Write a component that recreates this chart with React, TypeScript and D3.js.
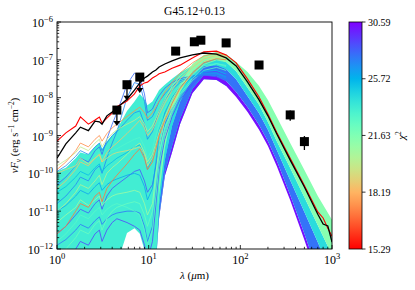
import React, { useEffect, useRef } from 'react';
import * as d3 from 'd3';

// chi^2 colour range (log-normalised, rainbow_r)
const CHI_MIN = 15.29;
const CHI_MAX = 30.59;
const CHI_TICKS = [15.29, 18.19, 21.63, 25.72, 30.59];

// full wavelength grid (micron) for the two highlighted fits
const WAVE = [1, 1.25, 1.6, 1.8, 2.2, 2.6, 2.9, 3.1, 3.5, 4, 4.5, 5.8, 7, 8, 9, 9.7, 11, 12, 13, 15, 18, 22, 30, 40, 55, 70, 90, 120, 160, 200, 250, 350, 500, 700, 800, 900, 1000];
// best model (chi2 = 15.29), log10 nuFnu
const bestLog = [-9.15, -8.93, -8.75, -8.51, -8.70, -8.59, -8.51, -8.67, -8.54, -8.41, -8.24, -8.09, -7.90, -7.69, -7.61, -7.59, -7.48, -7.43, -7.37, -7.32, -7.22, -7.14, -6.95, -6.79, -6.77, -6.87, -7.08, -7.51, -7.98, -8.43, -8.92, -9.60, -10.32, -11.02, -11.18, -11.45, -11.66];
// black curve
const blackLog = [-9.60, -9.22, -8.93, -8.78, -8.87, -8.62, -8.64, -8.70, -8.48, -8.38, -8.27, -8.04, -7.80, -7.61, -7.48, -7.43, -7.32, -7.27, -7.19, -7.11, -7.03, -6.95, -6.87, -6.82, -6.85, -6.95, -7.16, -7.59, -8.06, -8.48, -8.96, -9.65, -10.36, -11.08, -11.34, -11.39, -11.82];

// near/mid-IR grid for the model cloud
const NIR_WAVE = [1, 1.25, 1.6, 1.8, 2.2, 2.6, 2.9, 3.1, 3.5, 4, 4.5, 5.8, 7, 8, 9, 9.7, 11, 12, 13, 15, 18, 22, 30, 40, 55, 70];
const cloudChi = 23.5;
const cloudTopLog = [-9.95, -9.85, -9.6, -9.45, -9.5, -9.3, -9.2, -9.35, -9.15, -9.0, -8.85, -8.35, -8.1, -7.9, -8.05, -8.2, -8.1, -7.95, -7.8, -7.66, -7.5, -7.34, -7.15, -6.96, -6.86, -6.92];
const cloudBottomLog = [-12.4, -12.4, -12.4, -12.4, -12.4, -12.4, -12.4, -12.4, -12.4, -12.4, -12.4, -11.58, -11.45, -11.60, -12.03, -12.4, -12.4, -12.4, -11.18, -10.07, -9.44, -8.70, -7.88, -7.51, -7.53, -7.69];

// individual model lines drawn over the cloud
const modelChi = [28.8, 28.3, 27.5, 22.8, 27.0, 27.8, 26.8, 26.2, 25.5, 22.3, 23.0, 20.8, 20.2, 19.8, 19.2, 18.6, 17.4, 17.0];
const modelLog = [
  [-12.5, -12.3, -12.0, -11.8, -11.9, -11.6, -11.5, -11.8, -11.5, -11.3, -11.2, -11.3, -11.4, -11.5, -11.9, -12.3, -11.8, -10.8, -9.9, -9.1, -8.5, -8.05, -7.65, -7.35, -7.3, -7.4],
  [-11.6, -11.4, -11.1, -10.95, -11.05, -10.8, -10.7, -10.95, -10.6, -10.4, -10.3, -10.1, -9.95, -9.9, -10.2, -10.5, -10.3, -9.8, -9.3, -8.7, -8.3, -7.95, -7.6, -7.4, -7.4, -7.5],
  [-11.9, -11.75, -11.5, -11.35, -11.45, -11.25, -11.15, -11.35, -11.2, -11.1, -11.05, -11.0, -11.0, -11.05, -11.4, -11.8, -11.4, -10.5, -9.7, -8.95, -8.4, -8.0, -7.62, -7.38, -7.35, -7.45],
  [-11.8, -11.6, -11.3, -11.1, -11.2, -11.0, -10.9, -11.1, -10.95, -10.85, -10.8, -10.9, -11.0, -11.1, -11.5, -11.9, -11.5, -10.6, -9.75, -8.95, -8.4, -7.95, -7.55, -7.28, -7.2, -7.28],
  [-10.8, -10.6, -10.3, -10.1, -10.2, -9.9, -9.8, -10.0, -9.6, -9.2, -8.9, -8.0, -7.6, -7.65, -8.1, -8.6, -8.5, -8.3, -8.1, -7.9, -7.7, -7.55, -7.45, -7.4, -7.42, -7.5],
  [-10.3, -10.1, -9.8, -9.6, -9.7, -9.4, -9.3, -9.5, -9.1, -8.7, -8.4, -7.65, -7.35, -7.45, -7.9, -8.4, -8.3, -8.1, -7.95, -7.75, -7.6, -7.5, -7.42, -7.4, -7.45, -7.55],
  [-9.95, -9.8, -9.55, -9.4, -9.5, -9.3, -9.2, -9.4, -9.2, -9.0, -8.9, -8.6, -8.4, -8.35, -8.7, -9.1, -8.9, -8.6, -8.35, -8.05, -7.8, -7.6, -7.45, -7.38, -7.38, -7.48],
  [-11.0, -10.85, -10.6, -10.45, -10.55, -10.35, -10.25, -10.45, -10.3, -10.2, -10.15, -10.05, -10.0, -10.05, -10.35, -10.7, -10.4, -9.7, -9.0, -8.4, -8.0, -7.7, -7.45, -7.35, -7.35, -7.45],
  [-10.5, -10.35, -10.1, -9.95, -10.05, -9.85, -9.75, -9.95, -9.8, -9.7, -9.6, -9.45, -9.3, -9.25, -9.55, -9.9, -9.6, -9.2, -8.85, -8.45, -8.05, -7.75, -7.45, -7.3, -7.28, -7.38],
  [-12.2, -12.0, -11.7, -11.5, -11.6, -11.35, -11.25, -11.5, -11.2, -11.0, -10.9, -10.8, -10.75, -10.8, -11.1, -11.4, -11.0, -10.2, -9.5, -8.8, -8.3, -7.9, -7.5, -7.2, -7.1, -7.15],
  [-10.2, -10.05, -9.8, -9.65, -9.75, -9.55, -9.45, -9.65, -9.5, -9.4, -9.35, -9.2, -9.1, -9.05, -9.3, -9.6, -9.35, -9.0, -8.7, -8.3, -7.95, -7.65, -7.35, -7.15, -7.1, -7.18],
  [-11.3, -11.1, -10.9, -10.7, -10.85, -10.7, -10.6, -10.85, -10.7, -10.6, -10.55, -10.5, -10.45, -10.5, -10.8, -11.1, -10.8, -10.0, -9.3, -8.6, -8.1, -7.75, -7.4, -7.12, -7.0, -7.05],
  [-11.0, -10.8, -10.5, -10.3, -10.4, -10.2, -10.05, -10.3, -10.0, -9.85, -9.75, -9.5, -9.3, -9.2, -9.45, -9.7, -9.5, -9.2, -8.9, -8.5, -8.05, -7.7, -7.3, -7.05, -6.95, -6.98],
  [-9.8, -9.65, -9.45, -9.3, -9.4, -9.2, -9.1, -9.3, -9.1, -8.95, -8.85, -8.7, -8.6, -8.5, -8.7, -8.9, -8.75, -8.55, -8.35, -8.05, -7.7, -7.42, -7.15, -6.95, -6.86, -6.9],
  [-10.0, -9.9, -9.8, -9.6, -9.75, -9.6, -9.5, -9.7, -9.6, -9.5, -9.45, -9.4, -9.35, -9.3, -9.5, -9.8, -9.6, -9.3, -9.0, -8.6, -8.2, -7.8, -7.35, -7.05, -6.92, -6.95],
  [-10.4, -10.2, -9.9, -9.7, -9.8, -9.6, -9.5, -9.7, -9.45, -9.3, -9.2, -8.95, -8.75, -8.6, -8.8, -9.0, -8.85, -8.65, -8.45, -8.15, -7.8, -7.5, -7.2, -6.98, -6.88, -6.92],
  [-9.9, -9.7, -9.4, -9.2, -9.3, -9.1, -9.0, -9.15, -8.95, -8.8, -8.7, -8.5, -8.35, -8.25, -8.4, -8.55, -8.4, -8.25, -8.1, -7.85, -7.6, -7.35, -7.08, -6.9, -6.82, -6.88],
  [-11.6, -11.4, -11.0, -10.8, -10.9, -10.6, -10.5, -10.75, -10.4, -10.2, -10.05, -9.75, -9.5, -9.35, -9.6, -9.9, -9.7, -9.35, -9.0, -8.6, -8.15, -7.75, -7.35, -7.08, -6.97, -7.0],
];

// far-IR fan of models: edges from lowest (purple) to highest (green)
const FIR_WAVE = [12, 13, 15, 18, 22, 30, 40, 55, 70, 90, 120, 160, 200, 250, 350, 500, 700, 1000];
const fanEdgeP = [-12.34, -11.18, -10.07, -9.44, -8.70, -7.88, -7.51, -7.53, -7.69, -7.98, -8.38, -8.85, -9.28, -9.81, -10.71, -11.76, -12.82, -13.88];
const fanEdgeB = [-12.34, -11.12, -9.98, -9.28, -8.56, -7.77, -7.40, -7.43, -7.56, -7.85, -8.25, -8.72, -9.15, -9.67, -10.57, -11.60, -12.61, -13.61];
const fanEdgeC = [-12.34, -10.84, -9.65, -8.75, -8.11, -7.48, -7.16, -7.14, -7.24, -7.51, -7.96, -8.41, -8.85, -9.38, -10.18, -11.02, -11.82, -12.69];
const fanEdgeG = [-12.34, -10.57, -9.33, -8.43, -7.85, -7.30, -7.03, -6.98, -7.06, -7.30, -7.74, -8.19, -8.64, -9.15, -9.86, -10.63, -11.37, -12.16];
const fanEdgeT = [-12.34, -10.31, -8.99, -8.17, -7.64, -7.11, -6.87, -6.79, -6.85, -7.06, -7.32, -7.69, -8.06, -8.51, -9.20, -9.91, -10.60, -11.23];
const fanChi = [30.2, 27.6, 24.3, 21.4];

// observed photometry
const obsWave = [4.5, 5.8, 8.0, 19.7, 31.5, 37.1, 70, 160, 350, 500];
const obsFlux = [4.7e-9, 2.2e-8, 3.5e-8, 1.7e-7, 3.0e-7, 3.3e-7, 2.8e-7, 7.3e-8, 3.5e-9, 6.9e-10];
const obsErr = [0, 0, 0, 0, 0, 0, 0, 0, 0.3, 0.4];
const obsUpper = [true, true, true, false, false, false, false, false, false, false];

const X_TICKS = [1, 10, 100, 1000];
const Y_TICKS = [1e-12, 1e-11, 1e-10, 1e-9, 1e-8, 1e-7, 1e-6];

const FONT = '"Liberation Serif", "DejaVu Serif", serif';

const App: React.FC = () => {
  const svgRef = useRef<SVGSVGElement>(null);
  const margin = { top: 22, right: 83, bottom: 41, left: 57 };
  const width = 415;
  const height = 290;

  useEffect(() => {
    if (!svgRef.current) return;
    const svg = d3.select(svgRef.current);
    svg.selectAll('*').remove();

    const x = d3.scaleLog().domain([1, 1000]).range([margin.left, width - margin.right]);
    const y = d3.scaleLog().domain([1e-12, 1e-6]).range([height - margin.bottom, margin.top]);
    const chiNorm = d3.scaleLog().domain([CHI_MIN, CHI_MAX]).range([0, 1]).clamp(true);

    // matplotlib 'rainbow'
    const rainbow = (v: number) => {
      const r = Math.min(1, Math.abs(2 * v - 0.5));
      const g = Math.sin(Math.PI * v);
      const b = Math.cos((Math.PI * v) / 2);
      return d3.rgb(r * 255, g * 255, b * 255).formatHex();
    };
    const chiColor = (c: number) => rainbow(1 - chiNorm(c));

    const defs = svg.append('defs');
    defs.append('clipPath').attr('id', 'plotClip')
      .append('rect')
      .attr('x', margin.left).attr('y', margin.top)
      .attr('width', width - margin.left - margin.right)
      .attr('height', height - margin.top - margin.bottom);

    const plot = svg.append('g').attr('clip-path', 'url(#plotClip)');

    // cloud of near-IR models
    const cloudArea = d3.area<number>()
      .x((d, i) => x(NIR_WAVE[i]))
      .y0((d, i) => y(10 ** cloudBottomLog[i]))
      .y1((d, i) => y(10 ** cloudTopLog[i]));
    plot.append('path')
      .datum(NIR_WAVE)
      .attr('d', cloudArea)
      .attr('fill', chiColor(cloudChi));

    // far-IR fan bands
    const edges = [fanEdgeP, fanEdgeB, fanEdgeC, fanEdgeG, fanEdgeT];
    fanChi.forEach((chi, k) => {
      const lo = edges[k];
      const hi = edges[k + 1];
      const band = d3.area<number>()
        .x((d, i) => x(FIR_WAVE[i]))
        .y0((d, i) => y(10 ** lo[i]))
        .y1((d, i) => y(10 ** hi[i]));
      plot.append('path')
        .datum(FIR_WAVE)
        .attr('d', band)
        .attr('fill', chiColor(chi));
    });

    // individual model lines
    const nirLine = (vals: number[]) => d3.line<number>()
      .x((d, i) => x(NIR_WAVE[i]))
      .y((d) => y(10 ** d))(vals);
    modelLog.forEach((vals, k) => {
      plot.append('path')
        .attr('d', nirLine(vals))
        .attr('fill', 'none')
        .attr('stroke', chiColor(modelChi[k]))
        .attr('stroke-width', 0.9)
        .attr('stroke-opacity', 0.9);
    });

    const fullLine = d3.line<number>()
      .x((d, i) => x(WAVE[i]))
      .y((d) => y(10 ** d));

    plot.append('path')
      .attr('d', fullLine(bestLog))
      .attr('fill', 'none')
      .attr('stroke', chiColor(CHI_MIN))
      .attr('stroke-width', 1.1);

    plot.append('path')
      .attr('d', fullLine(blackLog))
      .attr('fill', 'none')
      .attr('stroke', '#000')
      .attr('stroke-width', 1.3);

    // observed points
    const pts = svg.append('g');
    obsWave.forEach((w, i) => {
      const cx = x(w);
      const cy = y(obsFlux[i]);
      if (obsErr[i] > 0) {
        pts.append('line')
          .attr('x1', cx).attr('x2', cx)
          .attr('y1', y(obsFlux[i] * (1 + obsErr[i])))
          .attr('y2', y(obsFlux[i] * (1 - obsErr[i])))
          .attr('stroke', '#000').attr('stroke-width', 1.3);
      }
      if (obsUpper[i]) {
        const tip = cy + 16;
        pts.append('line')
          .attr('x1', cx).attr('x2', cx)
          .attr('y1', cy).attr('y2', tip - 2)
          .attr('stroke', '#000').attr('stroke-width', 1.3);
        pts.append('path')
          .attr('d', `M${cx - 3.5},${tip - 5} L${cx + 3.5},${tip - 5} L${cx},${tip} Z`)
          .attr('fill', '#000');
      }
      pts.append('rect')
        .attr('x', cx - 4.5).attr('y', cy - 4.5)
        .attr('width', 9).attr('height', 9)
        .attr('fill', '#000');
    });

    // frame
    const x0 = margin.left;
    const x1 = width - margin.right;
    const y0 = height - margin.bottom;
    const y1 = margin.top;
    svg.append('rect')
      .attr('x', x0).attr('y', y1)
      .attr('width', x1 - x0).attr('height', y0 - y1)
      .attr('fill', 'none').attr('stroke', '#000').attr('stroke-width', 0.9);

    const axes = svg.append('g').attr('stroke', '#000').attr('stroke-width', 0.8);

    // x ticks (inward)
    X_TICKS.forEach((t, i) => {
      axes.append('line').attr('x1', x(t)).attr('x2', x(t)).attr('y1', y0).attr('y2', y0 - 4);
      if (i < X_TICKS.length - 1) {
        for (let m = 2; m <= 9; m++) {
          const v = t * m;
          axes.append('line').attr('x1', x(v)).attr('x2', x(v)).attr('y1', y0).attr('y2', y0 - 2.2);
        }
      }
      const lbl = svg.append('text')
        .attr('x', x(t)).attr('y', 264)
        .attr('text-anchor', 'middle')
        .attr('font-family', FONT).attr('font-size', 12);
      lbl.append('tspan').text('10');
      lbl.append('tspan').attr('font-size', 8.5).attr('dy', -5).text(String(Math.round(Math.log10(t))));
    });

    // y ticks (inward)
    Y_TICKS.forEach((t, i) => {
      axes.append('line').attr('x1', x0).attr('x2', x0 + 4).attr('y1', y(t)).attr('y2', y(t));
      if (i < Y_TICKS.length - 1) {
        for (let m = 2; m <= 9; m++) {
          const v = t * m;
          axes.append('line').attr('x1', x0).attr('x2', x0 + 2.2).attr('y1', y(v)).attr('y2', y(v));
        }
      }
      const lbl = svg.append('text')
        .attr('x', 53).attr('y', y(t) + 5)
        .attr('text-anchor', 'end')
        .attr('font-family', FONT).attr('font-size', 12);
      lbl.append('tspan').text('10');
      lbl.append('tspan').attr('font-size', 8.5).attr('dy', -5)
        .text(String(Math.round(Math.log10(t))).replace('-', '\u2212'));
    });

    // title
    svg.append('text')
      .attr('x', (x0 + x1) / 2).attr('y', 15)
      .attr('text-anchor', 'middle')
      .attr('font-family', FONT).attr('font-size', 11.5)
      .text('G45.12+0.13');

    // x label
    const xl = svg.append('text')
      .attr('x', (x0 + x1) / 2).attr('y', 279)
      .attr('text-anchor', 'middle')
      .attr('font-family', FONT).attr('font-size', 11);
    xl.append('tspan').attr('font-style', 'italic').text('λ');
    xl.append('tspan').text(' (');
    xl.append('tspan').attr('font-style', 'italic').text('μ');
    xl.append('tspan').text('m)');

    // y label
    const yl = svg.append('text')
      .attr('transform', `translate(18,${(y0 + y1) / 2}) rotate(-90)`)
      .attr('text-anchor', 'middle')
      .attr('font-family', FONT).attr('font-size', 10.5);
    yl.append('tspan').attr('font-style', 'italic').text('νF');
    yl.append('tspan').attr('font-style', 'italic').attr('font-size', 7.5).attr('dy', 2.5).text('ν');
    yl.append('tspan').attr('dy', -2.5).text(' (erg s');
    yl.append('tspan').attr('font-size', 7.5).attr('dy', -4).text('\u22121');
    yl.append('tspan').attr('dy', 4).text(' cm');
    yl.append('tspan').attr('font-size', 7.5).attr('dy', -4).text('\u22122');
    yl.append('tspan').attr('dy', 4).text(')');

    // colorbar
    const cbX = 349;
    const cbW = 13;
    const cbScale = d3.scaleLog().domain([CHI_MIN, CHI_MAX]).range([y0, y1]);
    const grad = defs.append('linearGradient').attr('id', 'cbGrad')
      .attr('x1', 0).attr('x2', 0).attr('y1', 1).attr('y2', 0);
    d3.range(0, 1.0001, 0.05).forEach((s) => {
      grad.append('stop').attr('offset', s).attr('stop-color', rainbow(1 - s));
    });
    svg.append('rect')
      .attr('x', cbX).attr('y', y1).attr('width', cbW).attr('height', y0 - y1)
      .attr('fill', 'url(#cbGrad)').attr('stroke', '#000').attr('stroke-width', 0.8);
    CHI_TICKS.forEach((c) => {
      const ty = cbScale(c);
      svg.append('line')
        .attr('x1', cbX + cbW).attr('x2', cbX + cbW + 3.5)
        .attr('y1', ty).attr('y2', ty)
        .attr('stroke', '#000').attr('stroke-width', 0.8);
      svg.append('text')
        .attr('x', cbX + cbW + 6).attr('y', ty + 3.5)
        .attr('font-family', FONT).attr('font-size', 10)
        .text(c.toFixed(2));
    });
    const cl = svg.append('text')
      .attr('transform', `translate(405,${(y0 + y1) / 2}) rotate(-90)`)
      .attr('text-anchor', 'middle')
      .attr('font-family', FONT).attr('font-size', 11);
    cl.append('tspan').attr('font-style', 'italic').text('χ');
    cl.append('tspan').attr('font-size', 7.5).attr('dy', -4).text('2');
  }, []);

  return (
    <svg
      ref={svgRef}
      width={width}
      height={height}
      style={{ position: 'absolute', left: 0, top: 0, background: '#fff' }}
    />
  );
};

export default App;
